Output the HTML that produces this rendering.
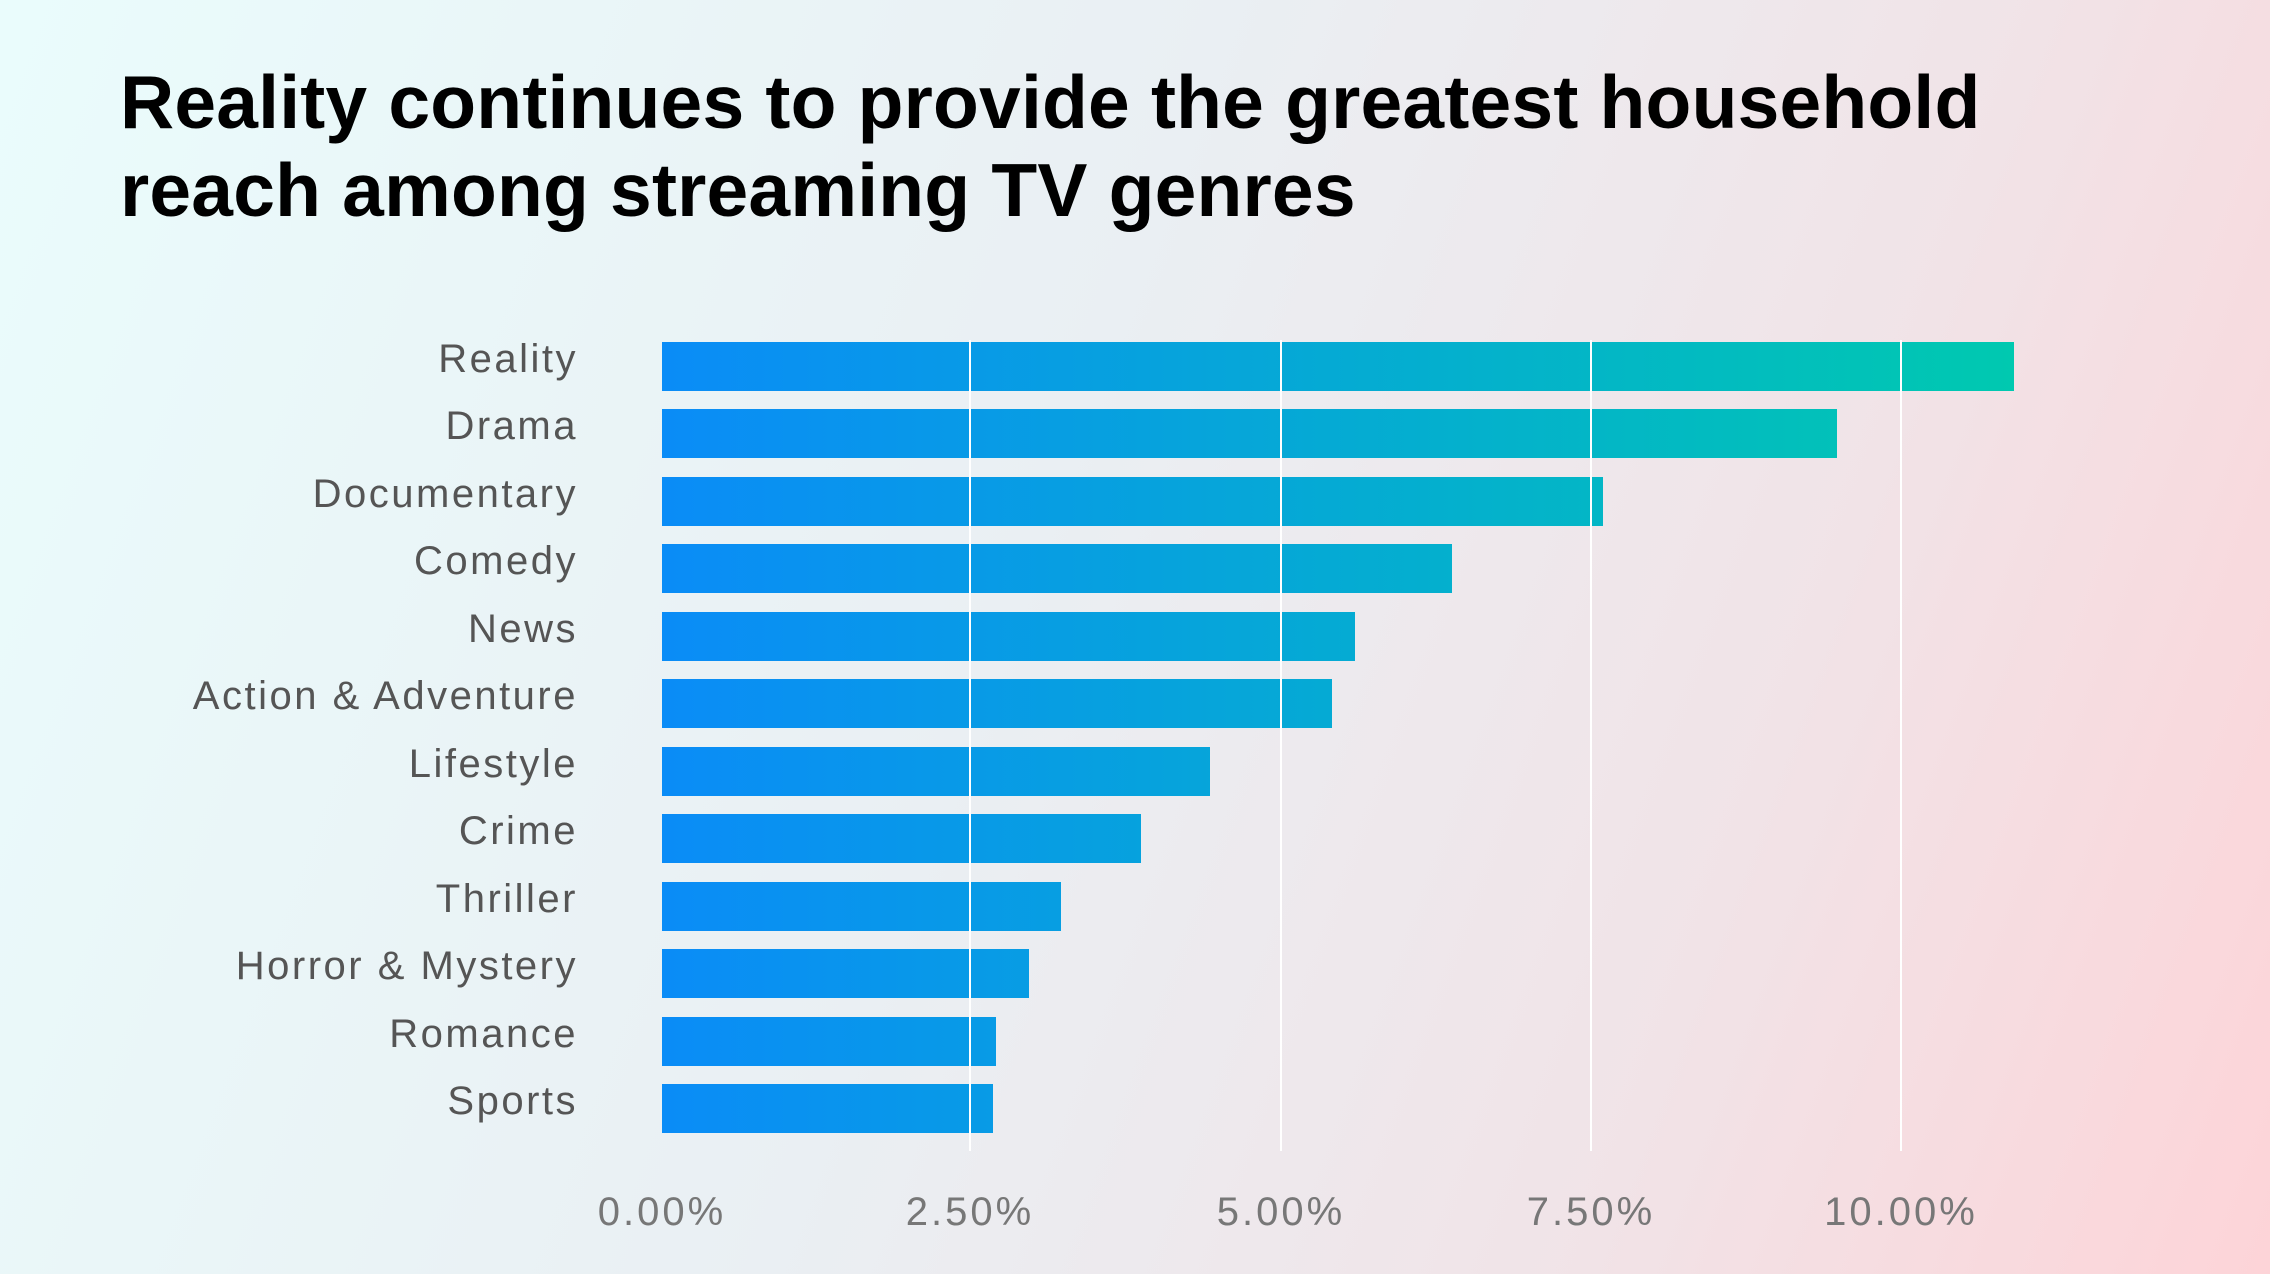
<!DOCTYPE html>
<html><head><meta charset="utf-8"><style>
html,body{margin:0;padding:0}
body{width:2270px;height:1274px;overflow:hidden;background:linear-gradient(110deg,#eafcfc 0%,#eaeff3 45%,#f1e3e7 75%,#fdd4d8 100%);font-family:"Liberation Sans",sans-serif}
h1{position:absolute;left:120px;top:58px;margin:0;font-size:75px;line-height:88px;font-weight:bold;color:#000;letter-spacing:0.2px}
</style></head><body>
<h1>Reality continues to provide the greatest household<br>reach among streaming TV genres</h1>
<svg width="2270" height="1274" style="position:absolute;left:0;top:0">
<defs><linearGradient id="g" gradientUnits="userSpaceOnUse" x1="662" y1="0" x2="2014" y2="0">
<stop offset="0" stop-color="#0a8cf7"/><stop offset="1" stop-color="#00c9b0"/></linearGradient></defs>
<g fill="url(#g)">
<rect x="662" y="342" width="1352" height="49"/>
<rect x="662" y="409" width="1175" height="49"/>
<rect x="662" y="477" width="941" height="49"/>
<rect x="662" y="544" width="790" height="49"/>
<rect x="662" y="612" width="693" height="49"/>
<rect x="662" y="679" width="670" height="49"/>
<rect x="662" y="747" width="548" height="49"/>
<rect x="662" y="814" width="479" height="49"/>
<rect x="662" y="882" width="399" height="49"/>
<rect x="662" y="949" width="367" height="49"/>
<rect x="662" y="1017" width="334" height="49"/>
<rect x="662" y="1084" width="331" height="49"/>
</g>
<g stroke="#ffffff" stroke-width="2">
<line x1="970" y1="340" x2="970" y2="1151"/>
<line x1="1281" y1="340" x2="1281" y2="1151"/>
<line x1="1591" y1="340" x2="1591" y2="1151"/>
<line x1="1901" y1="340" x2="1901" y2="1151"/>
</g>
<g font-family="Liberation Sans, sans-serif" font-size="40" fill="#555" text-anchor="end" letter-spacing="2.5">
<text x="578" y="372">Reality</text>
<text x="578" y="439">Drama</text>
<text x="578" y="507">Documentary</text>
<text x="578" y="574">Comedy</text>
<text x="578" y="642">News</text>
<text x="578" y="709">Action &amp; Adventure</text>
<text x="578" y="777">Lifestyle</text>
<text x="578" y="844">Crime</text>
<text x="578" y="912">Thriller</text>
<text x="578" y="979">Horror &amp; Mystery</text>
<text x="578" y="1047">Romance</text>
<text x="578" y="1114">Sports</text>
</g>
<g font-family="Liberation Sans, sans-serif" font-size="40" fill="#777" text-anchor="middle" letter-spacing="3">
<text x="662" y="1225">0.00%</text>
<text x="970" y="1225">2.50%</text>
<text x="1281" y="1225">5.00%</text>
<text x="1591" y="1225">7.50%</text>
<text x="1901" y="1225">10.00%</text>
</g>
</svg>
</body></html>
